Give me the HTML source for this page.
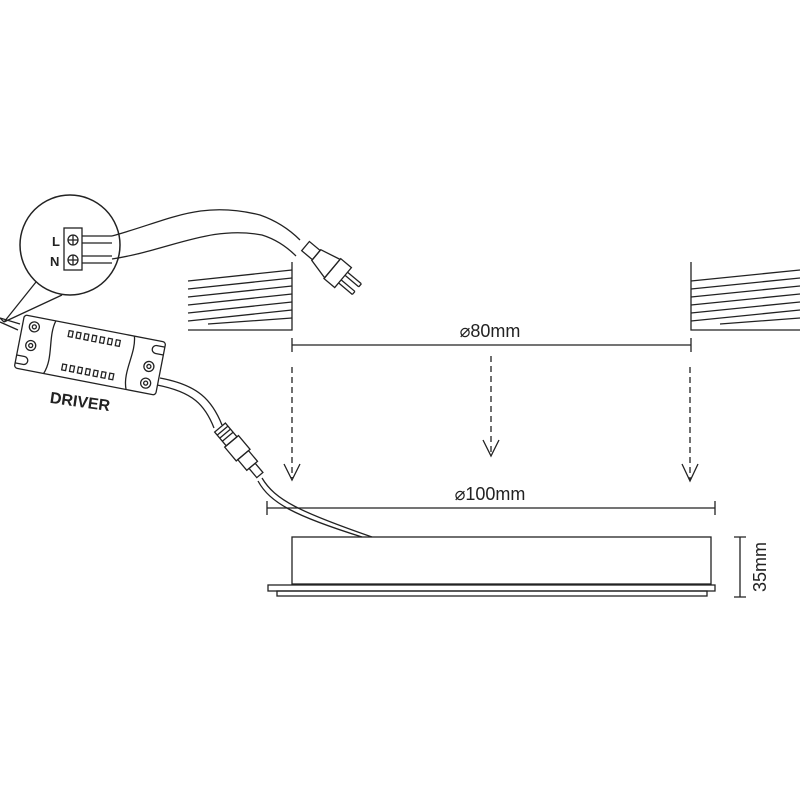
<!DOCTYPE html>
<html><head><meta charset="utf-8"><style>body{margin:0;background:#fff}svg{display:block}</style></head>
<body>
<svg width="800" height="800" viewBox="0 0 800 800" xmlns="http://www.w3.org/2000/svg" fill="none" stroke="#222" stroke-width="1.3" font-family="Liberation Sans, sans-serif">
<!-- left ceiling -->
<path d="M292 262V330H188"/>
<path d="M188 281L292 270M188 289L292 278M188 297L292 286M188 305L292 294M188 313L292 302M188 321L292 310M208 324L292 318"/>
<!-- right ceiling -->
<path d="M691 262V330H800"/>
<path d="M691 281L800 270M691 289L800 278M691 297L800 286M691 305L800 294M691 313L800 302M691 321L800 310M720 324L800 318"/>
<!-- 80 dim -->
<path d="M292 345H691M292 338V352M691 338V352"/>
<text x="490" y="337" font-size="18" fill="#222" stroke="none" text-anchor="middle">⌀80mm</text>
<!-- dashed arrows -->
<g stroke-dasharray="6 4">
<path d="M292 367V478M491 356V455M690 367V480"/>
</g>
<path d="M284 464L292 480L300 464M483 440L491 456L499 440M682 464L690 481L698 464"/>
<!-- 100 dim -->
<path d="M267 508H715M267 501V515M715 501V515"/>
<text x="490" y="500" font-size="18" fill="#222" stroke="none" text-anchor="middle">⌀100mm</text>
<!-- lamp -->
<rect x="292" y="537" width="419" height="47"/>
<rect x="268" y="585" width="447" height="6"/>
<rect x="277" y="591" width="430" height="5"/>
<!-- 35 dim -->
<path d="M740 537V597M734 537H746M734 597H746"/>
<text transform="translate(766 567) rotate(-90)" font-size="18" fill="#222" stroke="none" text-anchor="middle">35mm</text>
<!-- cable to lamp -->
<path d="M262 478C275 500 300 512 372 537M258 481C270 503 295 516 362 537"/>
<!-- cable from driver -->
<path d="M160 378C198 385 212 400 222 425M157 385C193 392 205 405 214 428"/>
<!-- connector -->
<g transform="translate(238 449) rotate(50)">
<rect x="-28" y="-7" width="18" height="14"/><rect x="-10" y="-9" width="18" height="18"/><rect x="8" y="-7" width="14" height="14"/><rect x="22" y="-4" width="12" height="8"/>
<path d="M-24 -7V7M-20 -7V7M-16 -7V7"/>
</g>
<!-- magnifier -->
<circle cx="70" cy="245" r="50" stroke-width="1.5"/>
<path d="M36 282L4 322M62 295L4 322M0 318L4 322"/>
<rect x="64" y="228" width="18" height="42"/>
<circle cx="73" cy="240" r="5"/><path d="M68 240h10M73 235v10"/>
<circle cx="73" cy="260" r="5"/><path d="M68 260h10M73 255v10"/>
<path d="M82 236H112M82 243H112M82 256H112M82 263H112"/>
<text x="52" y="246" font-size="13" font-weight="bold" fill="#222" stroke="none">L</text>
<text x="50" y="266" font-size="13" font-weight="bold" fill="#222" stroke="none">N</text>
<!-- power cord -->
<path d="M112 236C170 220 200 200 260 215C280 222 292 232 300 240M112 259C170 250 210 225 262 235C278 240 290 250 296 256"/>
<g transform="translate(340 275) rotate(40)">
<rect x="-45" y="-6" width="14" height="12"/>
<path d="M-31 -7L-10 -12L-10 12L-31 7Z"/>
<rect x="-10" y="-13" width="14" height="26"/>
<path d="M4 -7H22M4 -3H22M4 3H22M4 7H22M22 -7V-3M22 3V7"/>
</g>
<!-- driver -->
<g transform="translate(90 355) rotate(11)">
<rect x="-72" y="-27" width="144" height="54" rx="3"/>
<path d="M-40 -27C-45 -10 -35 10 -42 27M40 -27C45 -10 35 10 42 27"/>
<path d="M-25 -20h4v6h-4zM-17 -20h4v6h-4zM-9 -20h4v6h-4zM-1 -20h4v6h-4zM7 -20h4v6h-4zM15 -20h4v6h-4zM23 -20h4v6h-4zM-25 14h4v6h-4zM-17 14h4v6h-4zM-9 14h4v6h-4zM-1 14h4v6h-4zM7 14h4v6h-4zM15 14h4v6h-4zM23 14h4v6h-4z"/>
<circle cx="-60" cy="-17" r="5"/><circle cx="-60" cy="-17" r="2"/>
<circle cx="-60" cy="2" r="5"/><circle cx="-60" cy="2" r="2"/>
<circle cx="60" cy="0" r="5"/><circle cx="60" cy="0" r="2"/>
<circle cx="60" cy="17" r="5"/><circle cx="60" cy="17" r="2"/>
<path d="M-72 14h8a4 4 0 0 1 0 8h-8M72 -22h-8a4 4 0 0 0 0 8h8"/>
</g>
<path d="M0 318L20 324M0 322L18 330"/>
<text x="80" y="407" font-size="16" font-weight="bold" fill="#222" stroke="none" text-anchor="middle" transform="rotate(8 80 402)">DRIVER</text>
</svg>
</body></html>
